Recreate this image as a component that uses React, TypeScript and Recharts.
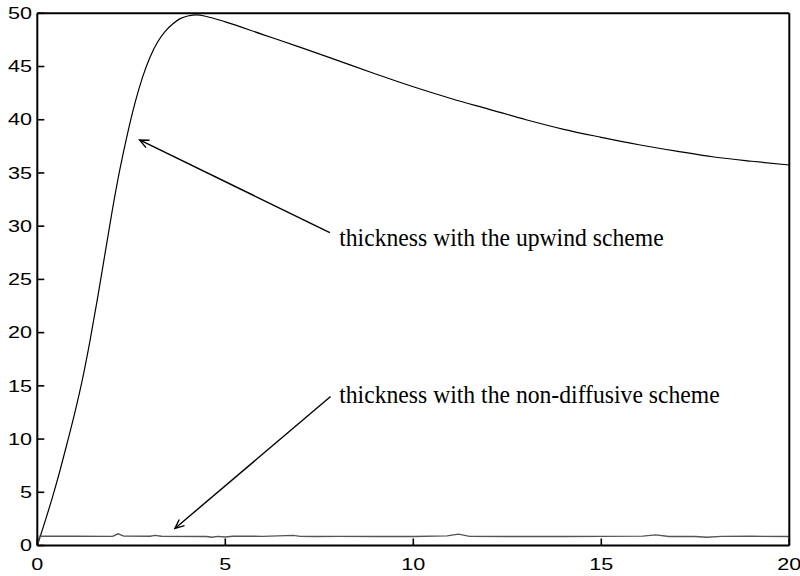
import React from 'react';
import { LineChart, Line, XAxis, YAxis, ReferenceLine, ReferenceDot } from 'recharts';

const xTicks = [0, 5, 10, 15, 20];
const yTicks = [0, 5, 10, 15, 20, 25, 30, 35, 40, 45, 50];

const upwindX = [0, 0.2, 0.4, 0.6, 0.8, 1.0, 1.2, 1.4, 1.6, 1.8, 2.0, 2.2, 2.4, 2.6, 2.8, 3.0, 3.2, 3.4, 3.6, 3.8, 4.0, 4.25, 4.5, 5, 6, 7, 8, 9, 10, 11, 12, 13, 14, 15, 16, 17, 18, 19, 20];
const upwindY = [0, 2.2, 4.5, 7.0, 9.7, 12.5, 15.6, 19.2, 23.2, 27.4, 31.6, 35.4, 38.7, 41.6, 44.0, 45.9, 47.3, 48.3, 49.0, 49.5, 49.75, 49.85, 49.7, 49.2, 48.0, 46.8, 45.55, 44.3, 43.1, 42.0, 41.0, 40.0, 39.1, 38.35, 37.65, 37.05, 36.5, 36.1, 35.75];

const nonDiffX = [0, 0.06, 1.0, 2.0, 2.15, 2.3, 3.0, 3.13, 3.3, 4.5, 4.64, 4.8, 5.0, 5.2, 6.0, 6.8, 7.0, 7.4, 8.0, 9.0, 10.0, 10.9, 11.2, 11.5, 12.5, 14.0, 15.0, 16.1, 16.45, 16.8, 17.5, 17.8, 18.2, 19.0, 20.0];
const nonDiffY = [0, 0.88, 0.87, 0.86, 1.1, 0.88, 0.87, 0.95, 0.87, 0.85, 0.78, 0.86, 0.8, 0.87, 0.86, 0.95, 0.86, 0.85, 0.86, 0.85, 0.85, 0.9, 1.07, 0.86, 0.84, 0.85, 0.86, 0.88, 1.0, 0.85, 0.84, 0.78, 0.86, 0.87, 0.84];

const labelTexts = ['thickness with the upwind scheme', 'thickness with the non-diffusive scheme'];
const arrowTails = [{ x: 7.78, y: 29.4 }, { x: 7.8, y: 14.0 }];
const arrowTips = [{ x: 2.72, y: 38.1 }, { x: 3.66, y: 1.6 }];
const labelAnchors = [{ x: 8.03, y: 28.15 }, { x: 8.03, y: 13.42 }];

const upwindData = upwindX.map((x, i) => ({ x, y: upwindY[i] }));
const nonDiffData = nonDiffX.map((x, i) => ({ x, y: nonDiffY[i] }));

const SANS = 'Liberation Sans, Arial, Helvetica, sans-serif';
const SERIF = 'Liberation Serif, Times New Roman, Times, serif';

const BottomTick = (props: any) => {
  const { x, y, payload } = props;
  return (
    <text transform={`translate(${x},${y}) scale(1.35,1)`} textAnchor="middle" dy="0.71em" fontFamily={SANS} fontSize={16} fill="#000">
      {payload.value}
    </text>
  );
};

const LeftTick = (props: any) => {
  const { x, y, payload } = props;
  return (
    <text transform={`translate(${x},${y}) scale(1.35,1)`} textAnchor="end" dy="0.355em" fontFamily={SANS} fontSize={16} fill="#000">
      {payload.value}
    </text>
  );
};

const ArrowShape = (props: any) => {
  const { x1, y1, x2, y2 } = props;
  const ang = Math.atan2(y2 - y1, x2 - x1);
  const L = 10;
  const a = 0.42;
  const p1 = `${x2 - L * Math.cos(ang - a)},${y2 - L * Math.sin(ang - a)}`;
  const p2 = `${x2 - L * Math.cos(ang + a)},${y2 - L * Math.sin(ang + a)}`;
  return (
    <g>
      <line x1={x1} y1={y1} x2={x2} y2={y2} stroke="#000" strokeWidth={1.4} />
      <polyline points={`${p1} ${x2},${y2} ${p2}`} fill="none" stroke="#000" strokeWidth={1.4} />
    </g>
  );
};

const makeLabel = (text: string) => (props: any) => {
  const { cx, cy } = props;
  return (
    <text transform={`translate(${cx},${cy}) scale(0.91,1)`} fontFamily={SERIF} fontSize={26} fill="#000" textAnchor="start">
      {text}
    </text>
  );
};

export default function App() {
  const axisLine = { stroke: '#000', strokeWidth: 2 };
  const tickLine = { stroke: '#000', strokeWidth: 1.6 };
  return (
    <div style={{ position: 'absolute', left: 0, top: 0, width: 800, height: 576, background: '#fff' }}>
      <LineChart width={800} height={576} margin={{ top: 12.3, right: 9.7, left: 0, bottom: 0.5 }}>
        <XAxis xAxisId="b" dataKey="x" type="number" domain={[0, 20]} ticks={xTicks} orientation="bottom" height={30}
          axisLine={axisLine} tickLine={tickLine} tickSize={-7} tickMargin={20} tick={BottomTick} allowDataOverflow interval={0} />
        <XAxis xAxisId="t" dataKey="x" type="number" domain={[0, 20]} ticks={xTicks} orientation="top" height={1}
          axisLine={axisLine} tickLine={tickLine} tickSize={-7} tick={false} allowDataOverflow interval={0} />
        <YAxis yAxisId="l" type="number" domain={[0, 50]} ticks={yTicks} orientation="left" width={37.3}
          axisLine={axisLine} tickLine={tickLine} tickSize={-7} tickMargin={12.3} tick={LeftTick} allowDataOverflow interval={0} />
        <YAxis yAxisId="r" type="number" domain={[0, 50]} ticks={yTicks} orientation="right" width={1}
          axisLine={axisLine} tickLine={tickLine} tickSize={-7} tick={false} allowDataOverflow interval={0} />
        <Line xAxisId="b" yAxisId="l" data={upwindData} dataKey="y" type="monotone" stroke="#000" strokeWidth={1.2} dot={false} isAnimationActive={false} />
        <Line xAxisId="b" yAxisId="l" data={nonDiffData} dataKey="y" type="linear" stroke="#555" strokeWidth={1.4} dot={false} isAnimationActive={false} />
        {arrowTails.map((t, i) => (
          <ReferenceLine key={`a${i}`} xAxisId="b" yAxisId="l" segment={[t, arrowTips[i]]} shape={ArrowShape} ifOverflow="visible" />
        ))}
        {labelAnchors.map((p, i) => (
          <ReferenceDot key={`l${i}`} xAxisId="b" yAxisId="l" x={p.x} y={p.y} r={0} shape={makeLabel(labelTexts[i])} ifOverflow="visible" />
        ))}
      </LineChart>
    </div>
  );
}
